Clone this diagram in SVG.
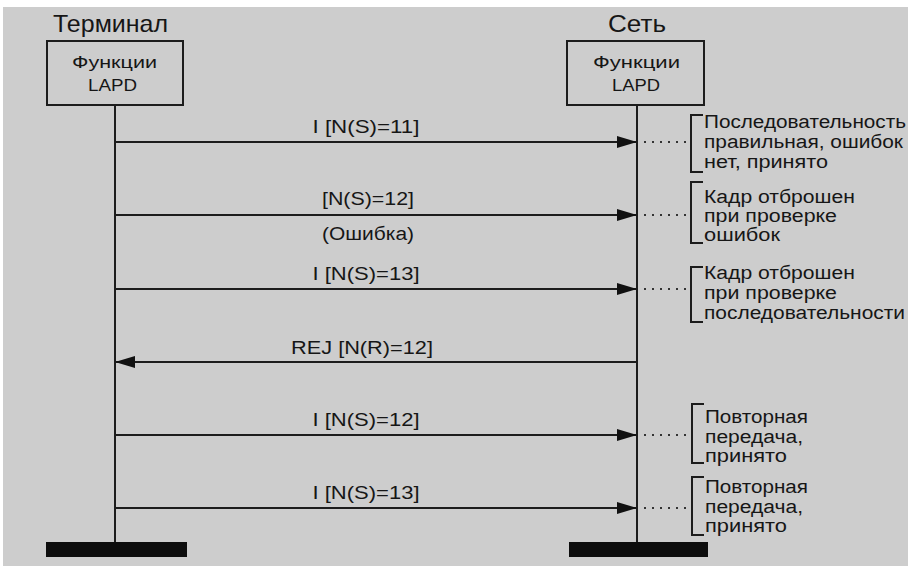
<svg xmlns="http://www.w3.org/2000/svg" width="908" height="569" viewBox="0 0 908 569">
<defs>
<style>
.bg{fill:#cdcdcd}
.box{fill:none;stroke:#1c1c1c;stroke-width:2}
.life{stroke:#1c1c1c;stroke-width:2;fill:none}
.msg{stroke:#1c1c1c;stroke-width:2.2;fill:none}
.dot{stroke:#333;stroke-width:2;stroke-dasharray:2 6;fill:none}
.br{stroke:#1c1c1c;stroke-width:2;fill:none}
.bar{fill:#0d0d0d}
text{font-family:"Liberation Sans",Arial,sans-serif;fill:#161616}
.title{font-size:24px}
.bt{font-size:17px;text-anchor:middle}
.lbl{font-size:18px;text-anchor:middle}
.note{font-size:18px}
</style>
<marker id="ah" viewBox="0 0 20 12" refX="20" refY="6" markerWidth="20" markerHeight="12" markerUnits="userSpaceOnUse" orient="auto">
<path d="M0,0 L20,6 L0,12 Z" fill="#111"/>
</marker>
</defs>
<rect x="0" y="0" width="908" height="569" fill="#ffffff"/>
<rect class="bg" x="3" y="7" width="905" height="559"/>

<g id="terminal">
<text class="title" x="53" y="32" textLength="115" lengthAdjust="spacingAndGlyphs">Терминал</text>
<rect class="box" x="47" y="41" width="136" height="64"/>
<text class="bt" x="114.5" y="68" textLength="85" lengthAdjust="spacingAndGlyphs">Функции</text>
<text class="bt" x="112.5" y="91" textLength="49" lengthAdjust="spacingAndGlyphs">LAPD</text>
<line class="life" x1="115" y1="105" x2="115" y2="543"/>
<rect class="bar" x="46" y="542" width="141" height="15"/>
</g>

<g id="network">
<text class="title" x="608" y="32" textLength="58" lengthAdjust="spacingAndGlyphs">Сеть</text>
<rect class="box" x="567" y="41" width="137" height="64"/>
<text class="bt" x="636.5" y="68" textLength="87" lengthAdjust="spacingAndGlyphs">Функции</text>
<text class="bt" x="636" y="91" textLength="48" lengthAdjust="spacingAndGlyphs">LAPD</text>
<line class="life" x1="637" y1="105" x2="637" y2="543"/>
<rect class="bar" x="569" y="542" width="139" height="15"/>
</g>

<g id="connectors">
<line class="msg" x1="115" y1="142" x2="637" y2="142" marker-end="url(#ah)"/>
<line class="msg" x1="115" y1="215" x2="637" y2="215" marker-end="url(#ah)"/>
<line class="msg" x1="115" y1="289" x2="637" y2="289" marker-end="url(#ah)"/>
<line class="msg" x1="637" y1="362" x2="115" y2="362" marker-end="url(#ah)"/>
<line class="msg" x1="115" y1="435" x2="637" y2="435" marker-end="url(#ah)"/>
<line class="msg" x1="115" y1="508" x2="637" y2="508" marker-end="url(#ah)"/>
<line class="dot" x1="644" y1="142" x2="686" y2="142"/>
<line class="dot" x1="644" y1="215" x2="686" y2="215"/>
<line class="dot" x1="644" y1="289" x2="686" y2="289"/>
<line class="dot" x1="644" y1="435" x2="686" y2="435"/>
<line class="dot" x1="644" y1="508" x2="686" y2="508"/>
</g>

<g id="labels">
<text class="lbl" x="366" y="133" textLength="107" lengthAdjust="spacingAndGlyphs">I [N(S)=11]</text>
<text class="lbl" x="368" y="205" textLength="92" lengthAdjust="spacingAndGlyphs">[N(S)=12]</text>
<text class="lbl" x="368" y="240" textLength="92" lengthAdjust="spacingAndGlyphs">(Ошибка)</text>
<text class="lbl" x="366" y="280" textLength="107" lengthAdjust="spacingAndGlyphs">I [N(S)=13]</text>
<text class="lbl" x="362" y="354" textLength="142" lengthAdjust="spacingAndGlyphs">REJ [N(R)=12]</text>
<text class="lbl" x="366" y="426" textLength="107" lengthAdjust="spacingAndGlyphs">I [N(S)=12]</text>
<text class="lbl" x="366" y="499" textLength="107" lengthAdjust="spacingAndGlyphs">I [N(S)=13]</text>
</g>

<g id="note1">
<path class="br" d="M703,115 H691 V172 H703"/>
<text class="note" x="704" y="128" textLength="202" lengthAdjust="spacingAndGlyphs">Последовательность</text>
<text class="note" x="704" y="148" textLength="199" lengthAdjust="spacingAndGlyphs">правильная, ошибок</text>
<text class="note" x="704" y="168" textLength="124" lengthAdjust="spacingAndGlyphs">нет, принято</text>
</g>
<g id="note2">
<path class="br" d="M703,182 H691 V243 H703"/>
<text class="note" x="704" y="203" textLength="151" lengthAdjust="spacingAndGlyphs">Кадр отброшен</text>
<text class="note" x="704" y="222" textLength="133" lengthAdjust="spacingAndGlyphs">при проверке</text>
<text class="note" x="704" y="241" textLength="76" lengthAdjust="spacingAndGlyphs">ошибок</text>
</g>
<g id="note3">
<path class="br" d="M703,267 H691 V322 H703"/>
<text class="note" x="704" y="279" textLength="151" lengthAdjust="spacingAndGlyphs">Кадр отброшен</text>
<text class="note" x="704" y="299" textLength="133" lengthAdjust="spacingAndGlyphs">при проверке</text>
<text class="note" x="704" y="319" textLength="201" lengthAdjust="spacingAndGlyphs">последовательности</text>
</g>
<g id="note5">
<path class="br" d="M704,404 H692 V463 H704"/>
<text class="note" x="705" y="423" textLength="103" lengthAdjust="spacingAndGlyphs">Повторная</text>
<text class="note" x="705" y="443" textLength="98" lengthAdjust="spacingAndGlyphs">передача,</text>
<text class="note" x="705" y="462" textLength="82" lengthAdjust="spacingAndGlyphs">принято</text>
</g>
<g id="note6">
<path class="br" d="M704,477 H692 V535 H704"/>
<text class="note" x="705" y="493" textLength="103" lengthAdjust="spacingAndGlyphs">Повторная</text>
<text class="note" x="705" y="513" textLength="98" lengthAdjust="spacingAndGlyphs">передача,</text>
<text class="note" x="705" y="532" textLength="82" lengthAdjust="spacingAndGlyphs">принято</text>
</g>
</svg>
